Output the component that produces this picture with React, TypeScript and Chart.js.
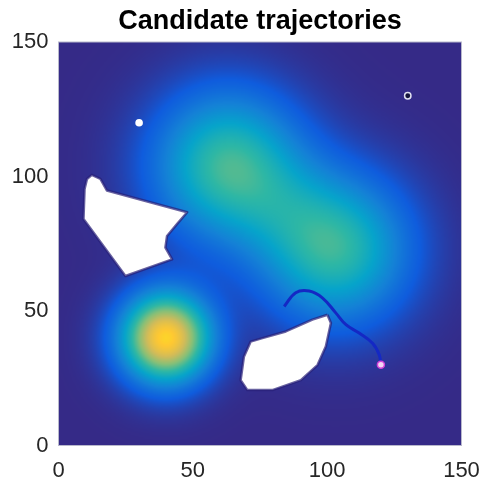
import { useEffect, useRef } from "react";
import { Chart, registerables } from "chart.js";

Chart.register(...registerables);

// ---------- data ----------
const TITLE = "Candidate trajectories";
const AXIS_MIN = 0;
const AXIS_MAX = 150;
const TICK_STEP = 50;

// obstacle polygons (closed)
const OBSTACLE_A_X = [9.7, 10.6, 12.4, 15.6, 18.0, 47.9, 44.1, 40.4, 39.8, 42.3, 24.9, 9.3, 9.7];
const OBSTACLE_A_Y = [95.4, 99.1, 100.6, 99.1, 94.8, 86.7, 82.3, 77.9, 73.6, 69.2, 63.0, 84.2, 95.4];
const OBSTACLE_B_X = [100.1, 94.5, 84.6, 75.9, 71.5, 69.0, 67.8, 70.3, 79.6, 90.2, 96.4, 99.5, 101.4, 100.1];
const OBSTACLE_B_Y = [48.6, 46.8, 42.4, 39.9, 38.6, 33.0, 24.3, 20.6, 20.6, 24.3, 29.9, 36.8, 45.5, 48.6];

// candidate trajectory
const TRAJ_X = [84.0, 88.3, 93.3, 98.2, 103.2, 107.0, 111.9, 116.9, 119.4, 120.0];
const TRAJ_Y = [51.7, 56.8, 57.4, 54.9, 49.3, 44.9, 41.8, 38.0, 33.7, 29.9];

// markers
const START_X = [120];
const START_Y = [30];
const WHITE_X = [30];
const WHITE_Y = [120];
const GOAL_X = [130];
const GOAL_Y = [130];

// background field: bumps (centre, height, spread)
const FIELD_CX = [40, 63, 103, 84];
const FIELD_CY = [40, 104, 73, 88];
const FIELD_AMP = [0.9, 0.52, 0.5, 0.06];
const FIELD_SPREAD = [11.5, 19, 19, 14];

// parula colour map stops
const PARULA = ["#352a87", "#0f5cdd", "#1481d6", "#06a4ca", "#2eb7a4", "#87bf77", "#d1bb59", "#fec832", "#f9fb0e"];

const FONT = "'Liberation Sans', Arial, Helvetica, sans-serif";

function hexToRgb(h: string) {
  const n = parseInt(h.slice(1), 16);
  return [(n >> 16) & 255, (n >> 8) & 255, n & 255];
}
const PARULA_RGB = PARULA.map(hexToRgb);

function colourAt(v: number) {
  const t = Math.max(0, Math.min(1, v)) * (PARULA_RGB.length - 1);
  const i = Math.min(PARULA_RGB.length - 2, Math.floor(t));
  const f = t - i;
  const a = PARULA_RGB[i];
  const b = PARULA_RGB[i + 1];
  return [a[0] + (b[0] - a[0]) * f, a[1] + (b[1] - a[1]) * f, a[2] + (b[2] - a[2]) * f];
}

function fieldAt(x: number, y: number) {
  let v = 0;
  for (let k = 0; k < FIELD_CX.length; k++) {
    const dx = x - FIELD_CX[k];
    const dy = y - FIELD_CY[k];
    const s = FIELD_SPREAD[k];
    v += FIELD_AMP[k] * Math.exp(-(dx * dx + dy * dy) / (2 * s * s));
  }
  return v;
}

function pts(xs: number[], ys: number[]) {
  return xs.map((x, i) => ({ x, y: ys[i] }));
}

const heatmapPlugin = {
  id: "heatmap",
  beforeDatasetsDraw(chart: any) {
    const { ctx, chartArea, scales } = chart;
    const xs = scales.x;
    const ys = scales.y;
    const N = 300;
    const step = (AXIS_MAX - AXIS_MIN) / N;
    const off = document.createElement("canvas");
    off.width = N;
    off.height = N;
    const octx = off.getContext("2d")!;
    const img = octx.createImageData(N, N);
    for (let j = 0; j < N; j++) {
      const yv = AXIS_MAX - (j + 0.5) * step;
      for (let i = 0; i < N; i++) {
        const xv = AXIS_MIN + (i + 0.5) * step;
        const c = colourAt(fieldAt(xv, yv));
        const p = (j * N + i) * 4;
        img.data[p] = c[0];
        img.data[p + 1] = c[1];
        img.data[p + 2] = c[2];
        img.data[p + 3] = 255;
      }
    }
    octx.putImageData(img, 0, 0);
    const x0 = xs.getPixelForValue(AXIS_MIN);
    const x1 = xs.getPixelForValue(AXIS_MAX);
    const y0 = ys.getPixelForValue(AXIS_MAX);
    const y1 = ys.getPixelForValue(AXIS_MIN);
    ctx.save();
    ctx.beginPath();
    ctx.rect(chartArea.left, chartArea.top, chartArea.right - chartArea.left, chartArea.bottom - chartArea.top);
    ctx.clip();
    ctx.imageSmoothingEnabled = true;
    ctx.imageSmoothingQuality = "high";
    ctx.drawImage(off, x0, y0, x1 - x0, y1 - y0);
    ctx.restore();
  },
  afterDatasetsDraw(chart: any) {
    const { ctx, chartArea } = chart;
    ctx.save();
    ctx.strokeStyle = "#b8b8cc";
    ctx.lineWidth = 1;
    ctx.strokeRect(chartArea.left, chartArea.top, chartArea.right - chartArea.left, chartArea.bottom - chartArea.top);
    ctx.restore();
  },
};

export default function App() {
  const ref = useRef<HTMLCanvasElement | null>(null);

  useEffect(() => {
    if (!ref.current) return;
    const obstacleStyle = {
      showLine: true,
      fill: "shape",
      backgroundColor: "#ffffff",
      borderColor: "rgba(40,32,120,0.7)",
      borderWidth: 2.5,
      borderJoinStyle: "round",
      pointRadius: 0,
      tension: 0,
      order: 3,
    };
    const chart = new Chart(ref.current, {
      type: "scatter",
      data: {
        datasets: [
          { label: "Obstacle 1", data: pts(OBSTACLE_A_X, OBSTACLE_A_Y), ...obstacleStyle } as any,
          { label: "Obstacle 2", data: pts(OBSTACLE_B_X, OBSTACLE_B_Y), ...obstacleStyle } as any,
          {
            label: "Trajectory",
            data: pts(TRAJ_X, TRAJ_Y),
            showLine: true,
            borderColor: "#1428c4",
            borderWidth: 3,
            pointRadius: 0,
            tension: 0.4,
            order: 2,
          },
          {
            label: "Start",
            data: pts(START_X, START_Y),
            pointRadius: 3.5,
            backgroundColor: "#f4d4f4",
            borderColor: "#d040d8",
            borderWidth: 1.5,
            order: 1,
          },
          {
            label: "Waypoint",
            data: pts(WHITE_X, WHITE_Y),
            pointRadius: 3.8,
            backgroundColor: "#ffffff",
            borderColor: "#ffffff",
            borderWidth: 0,
            order: 1,
          },
          {
            label: "Goal",
            data: pts(GOAL_X, GOAL_Y),
            pointRadius: 3.2,
            backgroundColor: "#14143a",
            borderColor: "#e0e0f0",
            borderWidth: 1.5,
            order: 1,
          },
        ],
      },
      options: {
        responsive: false,
        animation: false,
        events: [],
        layout: { padding: { left: 0, right: 25.5, top: 0, bottom: 0 } },
        plugins: {
          legend: { display: false },
          tooltip: { enabled: false },
          title: {
            display: true,
            text: TITLE,
            fullSize: false,
            color: "#000000",
            font: { family: FONT, size: 27, weight: "bold" },
            padding: { top: 5, bottom: 4.6 },
          },
        },
        scales: {
          x: {
            type: "linear",
            min: AXIS_MIN,
            max: AXIS_MAX,
            grid: { display: false, drawTicks: false },
            border: { display: false },
            ticks: {
              stepSize: TICK_STEP,
              color: "#262626",
              font: { family: FONT, size: 22 },
              padding: 12,
              maxRotation: 0,
            },
            afterFit(scale: any) {
              scale.height = 37.5;
              scale.paddingLeft = 0;
              scale.paddingRight = 0;
            },
          },
          y: {
            type: "linear",
            min: AXIS_MIN,
            max: AXIS_MAX,
            grid: { display: false, drawTicks: false },
            border: { display: false },
            ticks: {
              stepSize: TICK_STEP,
              color: "#262626",
              font: { family: FONT, size: 22 },
              padding: 10,
            },
            afterFit(scale: any) {
              scale.width = 58.5;
              scale.paddingTop = 0;
              scale.paddingBottom = 0;
            },
          },
        },
      } as any,
      plugins: [heatmapPlugin],
    });
    return () => chart.destroy();
  }, []);

  return (
    <canvas
      ref={ref}
      width={487}
      height={483}
      style={{ display: "block", position: "absolute", left: 0, top: 0 }}
    />
  );
}
